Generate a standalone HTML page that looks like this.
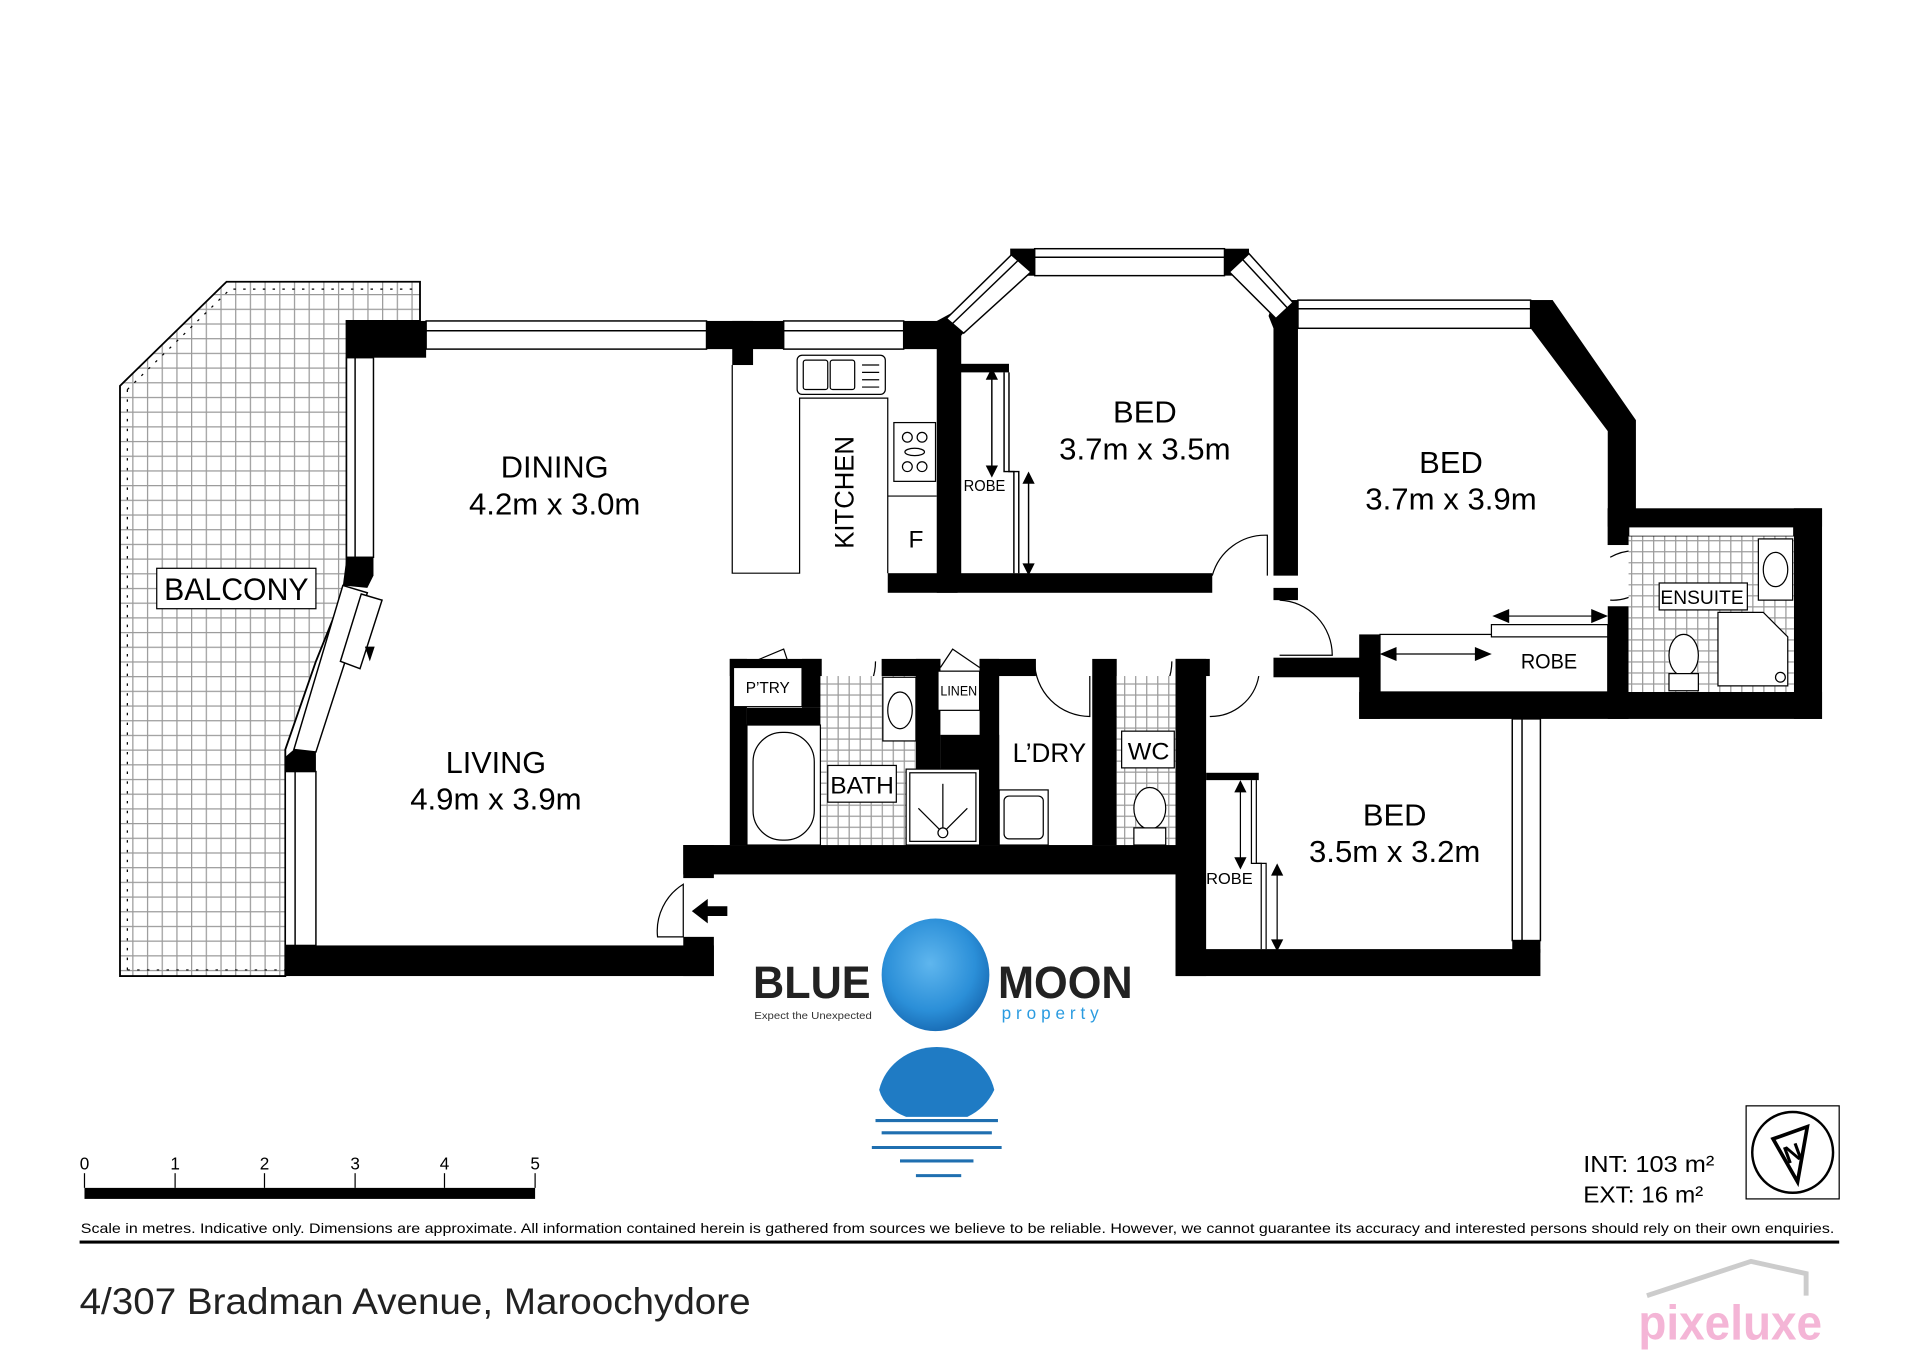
<!DOCTYPE html>
<html><head><meta charset="utf-8"><style>
html,body{margin:0;padding:0;background:#fff;}
svg{display:block;}
text{font-family:"Liberation Sans",sans-serif;}
</style></head><body>
<svg width="1920" height="1357" viewBox="0 0 1568 1108" xmlns="http://www.w3.org/2000/svg">
<defs>
<pattern id="grid" width="12" height="12" patternUnits="userSpaceOnUse">
<rect width="12" height="12" fill="#fff"/>
<path d="M0 0H12M0 0V12" stroke="#9a9a9a" stroke-width="2"/>
</pattern>
<pattern id="sg" width="9" height="9" patternUnits="userSpaceOnUse">
<rect width="9" height="9" fill="#fff"/>
<path d="M0 0H9M0 0V9" stroke="#9a9a9a" stroke-width="2"/>
</pattern>
<radialGradient id="moon" cx="45%" cy="40%" r="60%">
<stop offset="0" stop-color="#5fb6ee"/><stop offset="0.7" stop-color="#2b8fd8"/><stop offset="1" stop-color="#1a6fb8"/>
</radialGradient>
</defs>
<rect width="1568" height="1108" fill="#fff"/>

<polygon points="98,315 185,230 343,230 343,262 283,262 283,455 283,478 258,540 233,612 233,797 98,797" fill="url(#grid)" stroke="#000" stroke-width="1.5"/>
<polyline points="104,318 188,236 337,236" fill="none" stroke="#000" stroke-width="1" stroke-dasharray="2 6"/>
<line x1="104" y1="318" x2="104" y2="792" stroke="#000" stroke-width="1" stroke-dasharray="2 6"/>
<line x1="104" y1="792" x2="233" y2="792" stroke="#000" stroke-width="1" stroke-dasharray="2 6"/>
<rect x="128" y="464" width="130" height="33" fill="#fff" stroke="#000"/>
<text x="134" y="490" font-size="26" textLength="118" lengthAdjust="spacingAndGlyphs">BALCONY</text>

<g fill="#000">
<rect x="283" y="262" width="65" height="30"/>
<rect x="577" y="262" width="63" height="23"/>
<rect x="598" y="262" width="17" height="36"/>
<rect x="738" y="262" width="44" height="23"/>
<rect x="765" y="262" width="17" height="222"/>
<rect x="725" y="468" width="265" height="16"/>
<polygon points="283,455 305,455 305,470 300,480 280,478"/>
<polygon points="240,612 258,612 258,630 233,630 233,618"/>
<polygon points="262,540 280,546 278,552 260,546"/>
<rect x="233" y="772" width="350" height="25"/>
<rect x="558" y="690" width="25" height="27"/>
<rect x="558" y="765" width="25" height="32"/>
<rect x="558" y="690" width="407" height="24"/>
<rect x="596" y="538" width="14" height="152"/>
<rect x="596" y="538" width="75" height="14"/>
<rect x="655" y="538" width="16" height="40"/>
<rect x="610" y="578" width="61" height="14"/>
<rect x="720" y="538" width="48" height="14"/>
<rect x="748" y="538" width="20" height="152"/>
<rect x="768" y="600" width="48" height="90"/>
<rect x="800" y="538" width="46" height="14"/>
<rect x="800" y="538" width="16" height="152"/>
<rect x="892" y="538" width="20" height="152"/>
<rect x="960" y="538" width="28" height="14"/>
<rect x="960" y="538" width="25" height="259"/>
<rect x="960" y="775" width="298" height="22"/>
<rect x="1235" y="768" width="23" height="10"/>
<rect x="985" y="631" width="43" height="6"/>
<polygon points="825,203 845,203 845,225 835,225"/>
<rect x="825" y="203" width="20" height="22"/>
<polygon points="765,262 778,255 790,268 780,280 765,280"/>
<rect x="1000" y="203" width="20" height="22"/>
<polygon points="1040,245 1060,245 1060,268 1040,268 1036,258"/>
<rect x="770" y="265" width="15" height="210"/>
<rect x="782" y="297" width="42" height="7"/>
<rect x="1040" y="245" width="20" height="225"/>
<rect x="1040" y="480" width="20" height="10"/>
<rect x="1040" y="537" width="75" height="16"/>
<rect x="1250" y="245" width="18" height="23"/>
<polygon points="1250,245 1268,245 1336,343 1336,445 1313,445 1313,352 1250,268"/>
<rect x="1313" y="415" width="175" height="15"/>
<rect x="1313" y="415" width="17" height="30"/>
<rect x="1465" y="415" width="23" height="172"/>
<rect x="1110" y="565" width="378" height="22"/>
<rect x="1110" y="518" width="17" height="69"/>
<rect x="1313" y="495" width="17" height="92"/>
</g>

<g fill="#fff" stroke="#000" stroke-width="1.2">
<rect x="348" y="262" width="229" height="23"/>
<line x1="348" y1="270" x2="577" y2="270"/>
<rect x="640" y="262" width="98" height="23"/>
<line x1="640" y1="270" x2="738" y2="270"/>
<rect x="283" y="292" width="22" height="163"/>
<line x1="290" y1="292" x2="290" y2="455"/>
<rect x="233" y="630" width="25" height="142"/>
<line x1="241" y1="630" x2="241" y2="772"/>
<polygon points="280,478 300,484 258,614 240,612"/>
<polygon points="295,485 312,490 294,546 278,540" />
<rect x="845" y="203" width="155" height="22"/>
<line x1="845" y1="210" x2="1000" y2="210"/>
<polygon points="826,208 842,222 787,272 773,260"/>
<line x1="831" y1="213" x2="778" y2="264"/>
<polygon points="1020,207 1056,247 1042,260 1004,222"/>
<line x1="1015" y1="212" x2="1051" y2="251"/>
<rect x="1060" y="245" width="190" height="23"/>
<line x1="1060" y1="252" x2="1250" y2="252"/>
<rect x="1235" y="587" width="23" height="181"/>
<line x1="1243" y1="587" x2="1243" y2="768"/>
<rect x="1330" y="430" width="135" height="8"/>
</g>
<polygon points="298,528 302,540 306,528" fill="#000"/>

<g fill="#fff" stroke="#000" stroke-width="1">
<polyline points="598,298 598,468 653,468 653,325 725,325 725,468"/>
<rect x="651" y="290" width="72" height="32" rx="4"/>
<rect x="656" y="294" width="20" height="24" rx="2"/><rect x="678" y="294" width="20" height="24" rx="2"/>
<rect x="730" y="345" width="34" height="48"/>
<circle cx="741" cy="357" r="4"/><circle cx="753" cy="357" r="4"/><circle cx="741" cy="381" r="4"/><circle cx="753" cy="381" r="4"/><ellipse cx="747" cy="369" rx="8" ry="3"/>
<line x1="725" y1="405" x2="765" y2="405"/>
</g>
<g stroke="#000"><line x1="704" y1="298" x2="718" y2="298"/><line x1="704" y1="304" x2="718" y2="304"/><line x1="704" y1="310" x2="718" y2="310"/><line x1="704" y1="316" x2="718" y2="316"/></g>
<text x="748" y="447" font-size="20" text-anchor="middle">F</text>
<text transform="translate(697,402) rotate(-90)" font-size="22" text-anchor="middle" textLength="92" lengthAdjust="spacingAndGlyphs">KITCHEN</text>

<g stroke="#000" fill="none" stroke-width="1.2">
<line x1="810" y1="306" x2="810" y2="385"/><line x1="840" y1="390" x2="840" y2="465"/>
<polyline points="820,304 820,385 828,385 828,468"/><polyline points="824,304 824,385 832,385 832,468"/>
</g>
<g fill="#000"><polygon points="805,310 815,310 810,300"/><polygon points="805,380 815,380 810,390"/><polygon points="835,395 845,395 840,385"/><polygon points="835,460 845,460 840,470"/></g>
<text x="804" y="401" font-size="13" text-anchor="middle" textLength="34" lengthAdjust="spacingAndGlyphs">ROBE</text>

<g fill="none" stroke="#000" stroke-width="1">
<path d="M990,470 A45,45 0 0 1 1035,437 L1035,470"/>
<path d="M1045,490 A45,45 0 0 1 1088,535 L1045,535"/>
<path d="M988,585 A40,40 0 0 0 1028,552 L1028,552"/>
<path d="M1315,455 A40,40 0 0 1 1355,455 M1315,490 A38,38 0 0 0 1355,455"/>
<path d="M537,765 A45,45 0 0 1 558,722 L558,765 Z"/>
<path d="M672,585 A45,45 0 0 0 715,540"/><line x1="672" y1="585" x2="672" y2="552"/>
<path d="M845,540 A45,45 0 0 0 890,585 L890,552"/>
<path d="M912,585 A45,45 0 0 0 957,540"/>
<polyline points="604,545 640,530 645,545"/>
<polyline points="768,545 778,530 800,545"/>
</g>
<polygon points="565,744 578,734 578,740 594,740 594,748 578,748 578,754" fill="#000"/>

<rect x="670" y="552" width="50" height="138" fill="url(#sg)"/>
<rect x="720" y="552" width="28" height="138" fill="url(#sg)"/>
<rect x="912" y="552" width="48" height="138" fill="url(#sg)"/>
<rect x="1330" y="438" width="135" height="127" fill="url(#sg)"/>
<g fill="#fff" stroke="#000" stroke-width="1">
<rect x="610" y="592" width="60" height="98"/>
<rect x="615" y="598" width="50" height="88" rx="24"/>
<rect x="721" y="553" width="27" height="52"/><ellipse cx="735" cy="580" rx="10" ry="15"/>
<rect x="740" y="628" width="60" height="62"/><rect x="743" y="631" width="54" height="56"/>
<line x1="770" y1="640" x2="770" y2="678"/><line x1="750" y1="660" x2="770" y2="680"/><line x1="790" y1="660" x2="770" y2="680"/><circle cx="770" cy="680" r="4"/>
<rect x="676" y="625" width="56" height="30"/>
<rect x="599" y="545" width="56" height="32"/>
<rect x="766" y="548" width="34" height="32"/>
<rect x="816" y="645" width="40" height="45"/><rect x="820" y="650" width="32" height="35" rx="4"/>
<rect x="916" y="597" width="43" height="30"/>
<ellipse cx="939" cy="660" rx="13" ry="17"/><rect x="926" y="676" width="26" height="14"/>
<rect x="1355" y="476" width="72" height="22"/>
<rect x="1436" y="440" width="28" height="50"/><ellipse cx="1450" cy="465" rx="10" ry="14"/>
<ellipse cx="1375" cy="535" rx="12" ry="17"/><rect x="1363" y="550" width="24" height="14"/>
<path d="M1403,500 L1440,500 L1460,520 L1460,560 L1403,560 Z"/><circle cx="1454" cy="553" r="4"/>
<rect x="1127" y="518" width="186" height="47"/>
<rect x="1218" y="510" width="95" height="10"/>
</g>
<g stroke="#000" fill="#000">
<line x1="1130" y1="534" x2="1215" y2="534"/><polygon points="1128,534 1140,529 1140,539"/><polygon points="1217,534 1205,529 1205,539"/>
<line x1="1222" y1="503" x2="1310" y2="503"/><polygon points="1220,503 1232,498 1232,508"/><polygon points="1312,503 1300,498 1300,508"/>
</g>
<g stroke="#000" fill="none"><line x1="1013" y1="642" x2="1013" y2="705"/><line x1="1043" y1="710" x2="1043" y2="772"/>
<polyline points="1022,637 1022,705 1030,705 1030,775"/><polyline points="1026,637 1026,705 1034,705 1034,775"/></g>
<g fill="#000"><polygon points="1008,647 1018,647 1013,637"/><polygon points="1008,700 1018,700 1013,710"/><polygon points="1038,715 1048,715 1043,705"/><polygon points="1038,767 1048,767 1043,777"/></g>

<g font-size="25" text-anchor="middle">
<text x="453" y="390" textLength="88" lengthAdjust="spacingAndGlyphs">DINING</text><text x="453" y="420" textLength="140" lengthAdjust="spacingAndGlyphs">4.2m x 3.0m</text>
<text x="405" y="631" textLength="82" lengthAdjust="spacingAndGlyphs">LIVING</text><text x="405" y="661" textLength="140" lengthAdjust="spacingAndGlyphs">4.9m x 3.9m</text>
<text x="935" y="345" textLength="52" lengthAdjust="spacingAndGlyphs">BED</text><text x="935" y="375" textLength="140" lengthAdjust="spacingAndGlyphs">3.7m x 3.5m</text>
<text x="1185" y="386" textLength="52" lengthAdjust="spacingAndGlyphs">BED</text><text x="1185" y="416" textLength="140" lengthAdjust="spacingAndGlyphs">3.7m x 3.9m</text>
<text x="1139" y="674" textLength="52" lengthAdjust="spacingAndGlyphs">BED</text><text x="1139" y="704" textLength="140" lengthAdjust="spacingAndGlyphs">3.5m x 3.2m</text>
<text x="857" y="622" font-size="22" textLength="60" lengthAdjust="spacingAndGlyphs">L’DRY</text>
</g>
<g text-anchor="middle">
<text x="704" y="648" font-size="20" textLength="52" lengthAdjust="spacingAndGlyphs">BATH</text>
<text x="938" y="620" font-size="20" textLength="34" lengthAdjust="spacingAndGlyphs">WC</text>
<text x="627" y="566" font-size="13" textLength="36" lengthAdjust="spacingAndGlyphs">P’TRY</text>
<text x="783" y="568" font-size="11" textLength="30" lengthAdjust="spacingAndGlyphs">LINEN</text>
<text x="1390" y="493" font-size="16" textLength="68" lengthAdjust="spacingAndGlyphs">ENSUITE</text>
<text x="1265" y="546" font-size="17" textLength="46" lengthAdjust="spacingAndGlyphs">ROBE</text>
<text x="1004" y="722" font-size="13" textLength="38" lengthAdjust="spacingAndGlyphs">ROBE</text>
</g>

<text x="615" y="815" font-size="37" font-weight="bold" fill="#222" textLength="96" lengthAdjust="spacingAndGlyphs">BLUE</text>
<text x="616" y="832" font-size="8.5" fill="#333" textLength="96" lengthAdjust="spacingAndGlyphs">Expect the Unexpected</text>
<ellipse cx="764" cy="796" rx="44" ry="46" fill="url(#moon)"/>
<text x="815" y="815" font-size="37" font-weight="bold" fill="#222" textLength="110" lengthAdjust="spacingAndGlyphs">MOON</text>
<text x="818" y="832" font-size="14" fill="#2a9be0" letter-spacing="4">property</text>
<path d="M718,890 A48,44 0 0 1 812,890 Q805,905 790,912 L740,912 Q722,905 718,890 Z" fill="#1f7bc4"/>
<g stroke="#1f6fb0" stroke-width="2.5"><line x1="715" y1="915" x2="815" y2="915"/><line x1="720" y1="925" x2="810" y2="925"/><line x1="712" y1="937" x2="818" y2="937"/><line x1="735" y1="948" x2="795" y2="948"/><line x1="748" y1="960" x2="785" y2="960"/></g>

<rect x="69" y="970" width="368" height="9" fill="#000"/>
<g stroke="#000"><line x1="69" y1="958" x2="69" y2="970"/><line x1="143" y1="958" x2="143" y2="970"/><line x1="216" y1="958" x2="216" y2="970"/><line x1="290" y1="958" x2="290" y2="970"/><line x1="363" y1="958" x2="363" y2="970"/><line x1="437" y1="958" x2="437" y2="970"/></g>
<g font-size="14" text-anchor="middle"><text x="69" y="955">0</text><text x="143" y="955">1</text><text x="216" y="955">2</text><text x="290" y="955">3</text><text x="363" y="955">4</text><text x="437" y="955">5</text></g>
<text x="1293" y="957" font-size="19" textLength="107" lengthAdjust="spacingAndGlyphs">INT: 103 m²</text>
<text x="1293" y="982" font-size="19" textLength="98" lengthAdjust="spacingAndGlyphs">EXT: 16 m²</text>
<rect x="1426" y="903" width="76" height="76" fill="#fff" stroke="#000"/>
<circle cx="1464" cy="941" r="33" fill="none" stroke="#000" stroke-width="2"/>
<path d="M1448,930 L1476,920 L1468,965 Z" fill="none" stroke="#000" stroke-width="3"/>
<text x="1457" y="950" font-size="20" font-weight="bold" transform="rotate(-20 1460 943)">N</text>
<text x="66" y="1007" font-size="11.3" textLength="1432" lengthAdjust="spacingAndGlyphs">Scale in metres. Indicative only. Dimensions are approximate. All information contained herein is gathered from sources we believe to be reliable. However, we cannot guarantee its accuracy and interested persons should rely on their own enquiries.</text>
<rect x="65" y="1013" width="1437" height="2.5" fill="#000"/>
<text x="65" y="1073" font-size="30" fill="#222" textLength="548" lengthAdjust="spacingAndGlyphs">4/307 Bradman Avenue, Maroochydore</text>
<polyline points="1345,1058 1430,1030 1475,1040 1475,1058" fill="none" stroke="#ccc" stroke-width="4"/>
<text x="1338" y="1094" font-size="40" font-weight="bold" fill="#f4b5d6" textLength="150" lengthAdjust="spacingAndGlyphs">pixeluxe</text>
</svg>
</body></html>
